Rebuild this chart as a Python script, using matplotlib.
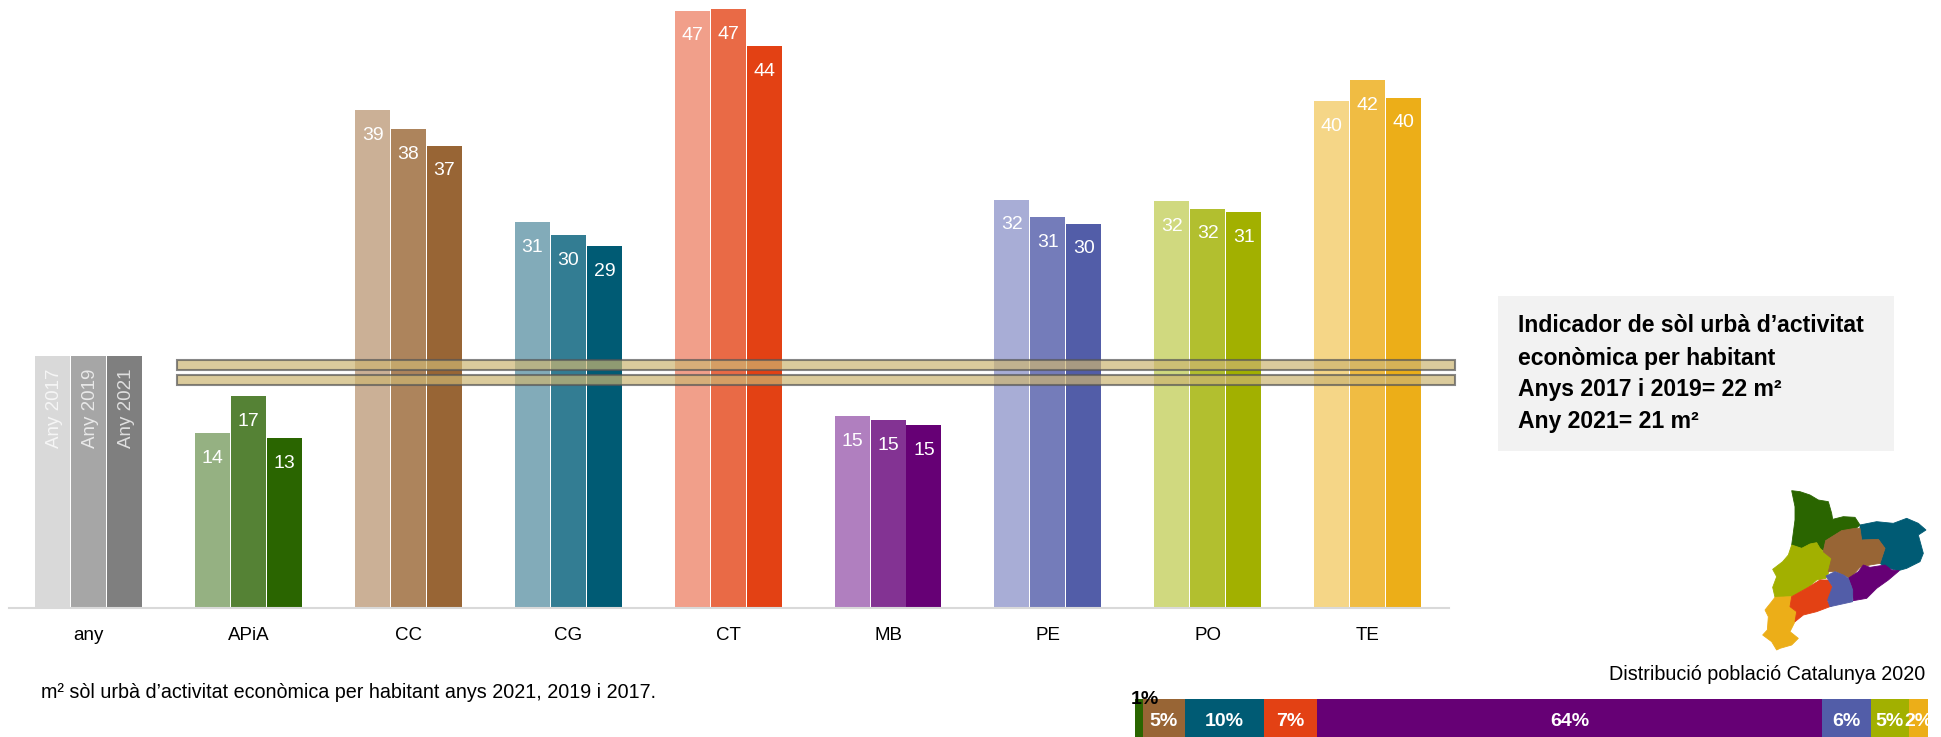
from matplotlib import pyplot as plt
from matplotlib.patches import Polygon, Rectangle

plt.rcParams['font.family'] = ['Liberation Sans', 'DejaVu Sans']

GROUPS = ['any', 'APiA', 'CC', 'CG', 'CT', 'MB', 'PE', 'PO', 'TE']
VALUES_2017 = [20, 13.9, 39.5, 30.6, 47.4, 15.2, 32.4, 32.3, 40.2]
VALUES_2019 = [20, 16.8, 38.0, 29.6, 47.5, 14.9, 31.0, 31.7, 41.9]
VALUES_2021 = [20, 13.5, 36.7, 28.7, 44.6, 14.5, 30.5, 31.4, 40.5]
LABELS_2017 = ['Any 2017', '14', '39', '31', '47', '15', '32', '32', '40']
LABELS_2019 = ['Any 2019', '17', '38', '30', '47', '15', '31', '32', '42']
LABELS_2021 = ['Any 2021', '13', '37', '29', '44', '15', '30', '31', '40']

COLORS_2017 = ['#d9d9d9', '#95b182', '#cbb096', '#82abb9', '#f19f8a', '#b07fbf', '#a8add6', '#d0d97f', '#f5d687']
COLORS_2019 = ['#a6a6a6', '#558235', '#ad845c', '#337d93', '#e96a46', '#833393', '#747cba', '#b2bf2f', '#f0bc43']
COLORS_2021 = ['#7f7f7f', '#2a6500', '#986535', '#005b74', '#e34114', '#660075', '#525da8', '#a2b000', '#ecae18']

POP_VALUES = [1, 5.3, 10, 6.7, 63.7, 6.2, 4.8, 2.4]
POP_LABELS = ['1%', '5%', '10%', '7%', '64%', '6%', '5%', '2%']
POP_COLORS = COLORS_2021[1:]

MAP_SHAPES = {
    'APiA': [(95, 32), (120, 35), (150, 45), (175, 60), (205, 65), (215, 100), (218, 118), (250, 110), (285, 112),
             (300, 135), (285, 148), (245, 152), (197, 182), (190, 212), (180, 205), (170, 188), (150, 192),
             (125, 205), (95, 195), (105, 120), (105, 80)],
    'CG': [(300, 135), (350, 125), (400, 130), (440, 115), (475, 130), (498, 150), (475, 165), (490, 220), (480, 245),
           (440, 265), (415, 272), (375, 262), (360, 250), (375, 205), (355, 178), (305, 180), (300, 150)],
    'PO': [(95, 195), (125, 205), (150, 192), (170, 188), (180, 205), (190, 215), (217, 235), (205, 280), (198, 295),
           (170, 300), (145, 322), (95, 350), (45, 352), (38, 322), (50, 290), (38, 268), (68, 245), (85, 225)],
    'CC': [(300, 145), (305, 180), (355, 178), (375, 205), (360, 250), (330, 255), (300, 262), (270, 295), (250, 285),
           (228, 275), (205, 275), (215, 235), (190, 215), (197, 182), (245, 152), (285, 145)],
    'MB': [(310, 255), (330, 262), (375, 255), (395, 270), (418, 272), (385, 300), (350, 325), (320, 355), (280, 362),
           (275, 320), (265, 295), (295, 275)],
    'TE': [(45, 352), (95, 350), (90, 380), (110, 395), (105, 425), (90, 455), (115, 475), (95, 495), (60, 505),
           (50, 510), (35, 485), (8, 465), (22, 450), (25, 410), (15, 390), (35, 365)],
    'CT': [(180, 300), (205, 300), (218, 320), (203, 365), (215, 378), (170, 395), (130, 405), (105, 425), (110, 395),
           (90, 380), (95, 350), (145, 322)],
    'PE': [(225, 275), (250, 285), (265, 295), (278, 330), (278, 365), (210, 380), (203, 360), (218, 320), (198, 288)],
}

W, H = 1941, 737


def px_axes(fig, left, top, right, bottom):
    return fig.add_axes([left / W, 1 - bottom / H, (right - left) / W, (bottom - top) / H])


def plot_bars(ax):
    series = [(VALUES_2017, COLORS_2017, LABELS_2017), (VALUES_2019, COLORS_2019, LABELS_2019),
              (VALUES_2021, COLORS_2021, LABELS_2021)]
    for n, (values, colors, labels) in enumerate(series):
        for i, value in enumerate(values):
            x = i + (n - 1) * 0.225
            ax.bar(x, value, width=0.219, color=colors[i], linewidth=0)
            if i == 0:
                ax.text(x + 0.012, value - 1.0, labels[i], rotation=90, ha='center', va='top', fontsize=13.5,
                        color='white', alpha=0.75)
            else:
                ax.text(x, value - 2, labels[i], ha='center', va='center', fontsize=14, color='white')
    ax.set_xlim(-0.5, 8.51)
    ax.set_ylim(0, 48.25)
    ax.set_xticks(range(len(GROUPS)), GROUPS, fontsize=13.5)
    ax.set_yticks([])
    ax.tick_params(axis='x', length=0, pad=14)
    for side in ['top', 'left', 'right']:
        ax.spines[side].set_visible(False)
    ax.spines['bottom'].set_color('#d9d9d9')
    ax.spines['bottom'].set_linewidth(1.5)


def plot_population(ax):
    left = 0
    for value, color, label in zip(POP_VALUES, POP_COLORS, POP_LABELS):
        ax.barh(0, value, left=left, height=1, color=color)
        if label == '1%':
            ax.text(left + value / 2 + 0.7, 0.5, label, ha='center', va='center', fontsize=14,
                    fontweight='bold', color='black', clip_on=False)
        else:
            ax.text(left + value / 2, -0.08, label, ha='center', va='center', fontsize=14,
                    fontweight='bold', color='white')
        left += value
    ax.set_xlim(0, sum(POP_VALUES))
    ax.set_ylim(-0.5, 0.5)
    ax.axis('off')


def plot_notes(ax):
    ax.set_xlim(0, W)
    ax.set_ylim(H, 0)
    ax.axis('off')
    ax.patch.set_alpha(0)

    for top, bottom in [(359.5, 370), (375, 385)]:
        ax.add_patch(Rectangle((177, top), 1278, bottom - top, facecolor='#cdb572', alpha=0.7,
                               edgecolor='#555555', linewidth=1.5))

    ax.add_patch(Rectangle((1498, 296), 396, 155, facecolor='#f2f2f2', edgecolor='none'))
    note = ['Indicador de sòl urbà d’activitat', 'econòmica per habitant',
            'Anys 2017 i 2019= 22 m²', 'Any 2021= 21 m²']
    for line, y in zip(note, [332, 365, 396, 428]):
        ax.text(1518, y, line, ha='left', va='baseline', fontsize=16.6, fontweight='bold', color='black')

    ax.text(41, 693, 'm² sòl urbà d’activitat econòmica per habitant anys 2021, 2019 i 2017.',
            ha='left', va='center', fontsize=14.2, color='black')
    ax.text(1925, 675, 'Distribució població Catalunya 2020', ha='right', va='center', fontsize=14.2, color='black')

    for name, shape in MAP_SHAPES.items():
        points = [(1760 + x / 3, 480 + y / 3) for x, y in shape]
        color = POP_COLORS[GROUPS[1:].index(name)]
        ax.add_patch(Polygon(points, closed=True, facecolor=color, edgecolor=color, linewidth=0.6))


fig = plt.figure(figsize=(W / 100, H / 100), dpi=100)
plot_bars(px_axes(fig, 9, 0, 1449, 608))
plot_population(px_axes(fig, 1135, 699, 1928, 737))
notes = px_axes(fig, 0, 0, W, H)
notes.set_zorder(3)
plot_notes(notes)
fig.savefig('out.png', dpi=100)
